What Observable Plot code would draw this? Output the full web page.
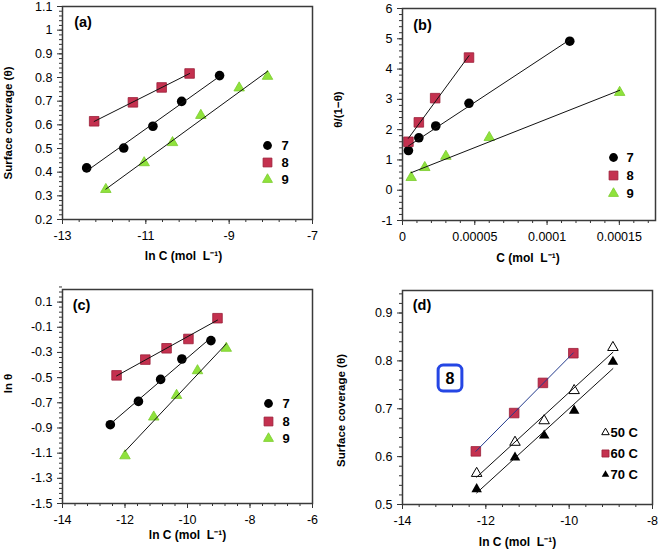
<!DOCTYPE html>
<html><head><meta charset="utf-8">
<script src="https://cdn.jsdelivr.net/npm/d3@7"></script>
<script src="https://cdn.jsdelivr.net/npm/@observablehq/plot@0.6"></script>
<style>
body{margin:0;background:#fff;}
#wrap{position:relative;width:661px;height:550px;background:#fff;overflow:hidden;}
#wrap svg{position:absolute;}
</style></head><body><div id="wrap"></div>
<script>
// ---------- DATA ----------
// Panel (a): surface coverage vs ln C
const aX7 = [-12.42, -11.53, -10.83, -10.14, -9.23];
const aY7 = [0.418, 0.502, 0.594, 0.699, 0.808];
const aX8 = [-12.24, -11.31, -10.62, -9.95];
const aY8 = [0.615, 0.695, 0.758, 0.817];
const aX9 = [-11.96, -11.04, -10.36, -9.68, -8.76, -8.08];
const aY9 = [0.327, 0.44, 0.525, 0.640, 0.756, 0.805];
const aXTicks = [-13, -11, -9, -7];
const aYTicks = [0.2, 0.3, 0.4, 0.5, 0.6, 0.7, 0.8, 0.9, 1, 1.1];

// Panel (b): theta/(1-theta) vs C
const bX7 = [0.0000041, 0.0000113, 0.000023, 0.000046, 0.0001157];
const bY7 = [1.31, 1.73, 2.12, 2.87, 4.92];
const bX8 = [0.0000041, 0.0000113, 0.0000226, 0.000046];
const bY8 = [1.6, 2.24, 3.04, 4.38];
const bX9 = [0.000006, 0.0000154, 0.00003, 0.00006, 0.0001502];
const bY9 = [0.42, 0.75, 1.12, 1.74, 3.23];
const bXTicks = [0, 0.00005, 0.0001, 0.00015];
const bYTicks = [-1, 0, 1, 2, 3, 4, 5, 6];

// Panel (c): ln theta vs ln C
const cX7 = [-12.47, -11.57, -10.86, -10.18, -9.25];
const cY7 = [-0.874, -0.689, -0.514, -0.352, -0.206];
const cX8 = [-12.27, -11.35, -10.67, -9.97, -9.04];
const cY8 = [-0.482, -0.357, -0.267, -0.193, -0.028];
const cX9 = [-12.0, -11.08, -10.35, -9.68, -8.76];
const cY9 = [-1.121, -0.813, -0.641, -0.445, -0.267];
const cXTicks = [-14, -12, -10, -8, -6];
const cYTicks = [0.1, -0.1, -0.3, -0.5, -0.7, -0.9, -1.1, -1.3, -1.5];

// Panel (d): compound 8 at three temperatures
const dX50 = [-12.22, -11.30, -10.60, -9.88, -8.95];
const dY50 = [0.565, 0.630, 0.675, 0.738, 0.828];
const dX60 = [-12.24, -11.32, -10.63, -9.90];
const dY60 = [0.611, 0.691, 0.754, 0.816];
const dX70 = [-12.22, -11.30, -10.60, -9.88, -8.95];
const dY70 = [0.532, 0.598, 0.644, 0.696, 0.798];
const dXTicks = [-14, -12, -10, -8];
const dYTicks = [0.5, 0.6, 0.7, 0.8, 0.9];

const seriesNames = ["7", "8", "9"];
const tempNames = ["50 C", "60 C", "70 C"];

// ---------- STYLE ----------
const FONT = "'Liberation Sans', Arial, Helvetica, sans-serif";
const RED = "#c4314f", RED_S = "#9b2039", GREEN = "#8fe23c", GREEN_S = "#7acb2c";
const fmt = d => String(d);
const range = (a, b, s) => d3.range(0, Math.round((b - a) / s) + 1).map(i => +(a + i * s).toFixed(8));
const rows = (xs, ys) => xs.map((x, i) => ({x, y: ys[i]}));

const roundedBox = {
  draw(ctx, size) {
    const hw = Math.sqrt(size) / 2, hh = hw * 1.085, rr = 5;
    ctx.moveTo(-hw + rr, -hh);
    ctx.lineTo(hw - rr, -hh); ctx.arcTo(hw, -hh, hw, -hh + rr, rr);
    ctx.lineTo(hw, hh - rr); ctx.arcTo(hw, hh, hw - rr, hh, rr);
    ctx.lineTo(-hw + rr, hh); ctx.arcTo(-hw, hh, -hw, hh - rr, rr);
    ctx.lineTo(-hw, -hh + rr); ctx.arcTo(-hw, -hh, -hw + rr, -hh, rr);
    ctx.closePath();
  }
};

const C = {textAnchor: "middle", lineAnchor: "middle"};

function panel(cfg) {
  const marks = [];
  marks.push(Plot.axisX(cfg.xMinor, {tickSize: 3, tickFormat: () => "", label: null, stroke: "#333"}));
  marks.push(Plot.axisY(cfg.yMinor, {tickSize: 3, tickFormat: () => "", label: null, stroke: "#333"}));
  marks.push(Plot.axisX(cfg.xTicks, {tickSize: 5, tickPadding: 7, tickFormat: fmt, label: null, fontSize: 12.5, stroke: "#333"}));
  marks.push(Plot.axisY(cfg.yTicks, {tickSize: 5, tickPadding: 5, tickFormat: fmt, label: null, fontSize: 12.5, stroke: "#333"}));
  for (const s of cfg.series) {
    marks.push(Plot.dot(s.data, {x: "x", y: "y", symbol: s.symbol, r: s.r, fill: s.fill, stroke: s.stroke || "none", strokeWidth: s.sw || 0.8}));
  }
  for (const s of cfg.series) {
    marks.push(Plot.linearRegressionY(s.data, {x: "x", y: "y", ci: 0, stroke: s.line || "#111", strokeWidth: 1}));
  }
  marks.push(Plot.frame({stroke: "#3a3a3a", strokeWidth: 1.5}));
  // axis titles
  marks.push(Plot.text([cfg.xLabel], {...C, text: d => d, frameAnchor: "bottom", dx: cfg.xl[0], dy: cfg.xl[1], fontWeight: "bold", fontSize: 12}));
  marks.push(Plot.text([cfg.yLabel], {...C, text: d => d, frameAnchor: "left", dx: cfg.yl[0], dy: cfg.yl[1], rotate: -90, fontWeight: "bold", fontSize: cfg.ylSize || 11.5}));
  // panel tag
  marks.push(Plot.text([cfg.tag], {...C, text: d => d, frameAnchor: "top-left", dx: cfg.tagPos[0], dy: cfg.tagPos[1], fontWeight: "bold", fontSize: 14.5}));
  // legend
  cfg.legend.items.forEach((it, i) => {
    marks.push(Plot.dot([0], {frameAnchor: "top-left", dx: cfg.legend.mx, dy: cfg.legend.dy[i], symbol: it.symbol, r: it.r, fill: it.fill, stroke: it.stroke || "none", strokeWidth: it.sw || 0.8}));
    marks.push(Plot.text([it.name], {text: d => d, frameAnchor: "top-left", textAnchor: "start", lineAnchor: "middle", dx: cfg.legend.tx, dy: cfg.legend.dy[i], fontWeight: "bold", fontSize: 13}));
  });
  if (cfg.extra) marks.push(...cfg.extra);
  const svg = Plot.plot({
    width: cfg.width, height: cfg.height,
    marginTop: cfg.m[0], marginRight: cfg.m[1], marginBottom: cfg.m[2], marginLeft: cfg.m[3],
    x: {domain: cfg.xDomain},
    y: {domain: cfg.yDomain},
    style: {fontFamily: FONT, fontSize: "12px", color: "#000", background: "transparent", overflow: "visible"},
    marks
  });
  svg.style.left = cfg.left + "px";
  svg.style.top = cfg.top + "px";
  document.getElementById("wrap").appendChild(svg);
}

const sym7 = {symbol: "circle", r: 4.8, fill: "#000"};
const sym8 = {symbol: "square", r: 5.4, fill: RED, stroke: RED_S};
const sym9 = {symbol: "triangle", r: 3.9, fill: GREEN, stroke: GREEN_S};
const leg789 = [
  {name: seriesNames[0], symbol: "circle", r: 4.4, fill: "#000"},
  {name: seriesNames[1], symbol: "square", r: 5, fill: RED, stroke: RED_S},
  {name: seriesNames[2], symbol: "triangle", r: 3.7, fill: GREEN, stroke: GREEN_S}
];

panel({
  left: 0, top: 0, width: 330, height: 275, m: [6, 18, 56, 62],
  xDomain: [-13, -7], yDomain: [0.2, 1.1],
  xTicks: aXTicks, yTicks: aYTicks, xMinor: range(-13, -7, 0.4), yMinor: range(0.2, 1.1, 0.02),
  series: [
    {data: rows(aX7, aY7), ...sym7},
    {data: rows(aX8, aY8), ...sym8},
    {data: rows(aX9, aY9), ...sym9}
  ],
  xLabel: "ln C (mol  L⁻¹)", xl: [-4, 37],
  yLabel: "Surface coverage (θ)", yl: [-54, 10],
  tag: "(a)", tagPos: [20.5, 15.5],
  legend: {mx: 205, tx: 219, dy: [139, 156, 173], items: leg789}
});

panel({
  left: 330, top: 0, width: 331, height: 275, m: [8, 6, 55, 72],
  xDomain: [0, 0.000175], yDomain: [-1, 6],
  xTicks: bXTicks, yTicks: bYTicks, xMinor: range(0, 0.00017, 0.00001), yMinor: range(-1, 6, 0.2),
  series: [
    {data: rows(bX7, bY7), ...sym7},
    {data: rows(bX8, bY8), ...sym8},
    {data: rows(bX9, bY9), ...sym9}
  ],
  xLabel: "C (mol  L⁻¹)", xl: [-1, 38],
  yLabel: "θ/(1−θ)", yl: [-64, -5],
  tag: "(b)", tagPos: [20, 17],
  legend: {mx: 211, tx: 224, dy: [149, 167, 185], items: leg789}
});

panel({
  left: 0, top: 275, width: 330, height: 275, m: [14, 18, 47, 62],
  xDomain: [-14, -6], yDomain: [-1.5, 0.2],
  xTicks: cXTicks, yTicks: cYTicks, xMinor: range(-14, -6, 0.4), yMinor: range(-1.5, 0.2, 0.04),
  series: [
    {data: rows(cX7, cY7), ...sym7},
    {data: rows(cX8, cY8), ...sym8},
    {data: rows(cX9, cY9), ...sym9}
  ],
  xLabel: "ln C (mol  L⁻¹)", xl: [0, 32],
  yLabel: "ln θ", yl: [-54, -13],
  tag: "(c)", tagPos: [19, 16],
  legend: {mx: 206, tx: 220, dy: [114, 132, 149], items: leg789}
});

panel({
  left: 330, top: 275, width: 331, height: 275, m: [15, 9, 46, 72],
  xDomain: [-14, -8], yDomain: [0.5, 0.947],
  xTicks: dXTicks, yTicks: dYTicks, xMinor: range(-14, -8, 0.4), yMinor: range(0.5, 0.94, 0.02),
  series: [
    {data: rows(dX60, dY60), symbol: "square", r: 5.4, fill: RED, stroke: RED_S, line: "#233a8c"},
    {data: rows(dX50, dY50), symbol: "triangle", r: 3.9, fill: "#fff", stroke: "#000", sw: 1},
    {data: rows(dX70, dY70), symbol: "triangle", r: 3.9, fill: "#000"}
  ],
  xLabel: "ln C (mol  L⁻¹)", xl: [-10, 38],
  yLabel: "Surface coverage (θ)", yl: [-61, 13],
  tag: "(d)", tagPos: [19.5, 15],
  legend: {mx: 203, tx: 208, dy: [142, 163, 184], items: [
    {name: tempNames[0], symbol: "triangle", r: 2.8, fill: "#fff", stroke: "#000", sw: 1},
    {name: tempNames[1], symbol: "square", r: 4, fill: RED, stroke: RED_S},
    {name: tempNames[2], symbol: "triangle", r: 2.8, fill: "#000"}
  ]},
  extra: [
    Plot.dot([0], {frameAnchor: "top-left", dx: 47.5, dy: 87.5, symbol: roundedBox, r: 13.4, fill: "#fff", stroke: "#2546e4", strokeWidth: 3}),
    Plot.text(["8"], {...C, text: d => d, frameAnchor: "top-left", dx: 47.5, dy: 88, fontWeight: "bold", fontSize: 16})
  ]
});
</script>
</body></html>
